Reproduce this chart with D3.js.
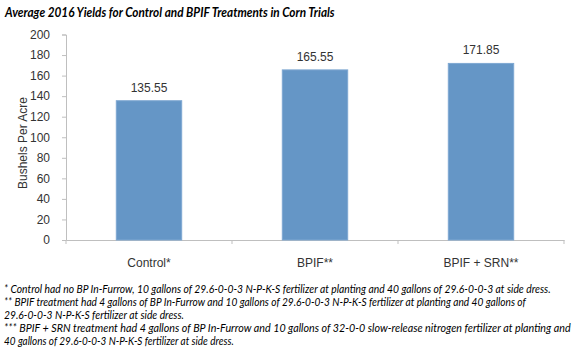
<!DOCTYPE html>
<html><head><meta charset="utf-8">
<script src="https://cdn.jsdelivr.net/npm/d3@7"></script>
<style>body{margin:0;background:#fff}svg{display:block}</style>
</head><body>
<svg id="c" width="580" height="353"></svg>
<script>
const title = "Average 2016 Yields for Control and BPIF Treatments in Corn Trials";
const categories = ["Control*", "BPIF**", "BPIF + SRN**"];
const values = [135.55, 165.55, 171.85];
const valueLabels = ["135.55", "165.55", "171.85"];
const yTicks = [0, 20, 40, 60, 80, 100, 120, 140, 160, 180, 200];
const yTitle = "Bushels Per Acre";
const footnotes = [
  "* Control had no BP In-Furrow, 10 gallons of 29.6-0-0-3 N-P-K-S fertilizer at planting and 40 gallons of 29.6-0-0-3 at side dress.",
  "** BPIF treatment had 4 gallons of BP In-Furrow and 10 gallons of 29.6-0-0-3 N-P-K-S fertilizer at planting and 40 gallons of",
  "29.6-0-0-3 N-P-K-S fertilizer at side dress.",
  "*** BPIF + SRN treatment had 4 gallons of BP In-Furrow and 10 gallons of 32-0-0 slow-release nitrogen fertilizer at planting and",
  "40 gallons of 29.6-0-0-3 N-P-K-S fertilizer at side dress."
];
const footWidths = [547, 522, 180, 567, 230];

const svg = d3.select("#c");
const x = d3.scaleBand().domain(categories).range([66, 564]).paddingInner(0.6).paddingOuter(0.3);
const y = d3.scaleLinear().domain([0, 200]).range([240, 34.5]);
const axisColor = "#bfbfbf";
const textColor = "#333";
const font = "'Liberation Sans', Arial, sans-serif";

function fitText(sel, target, tx, ty) {
  sel.each(function(d, i) {
    const t = typeof target === "function" ? target(d, i) : target;
    const w = this.getComputedTextLength();
    const yy = typeof ty === "function" ? ty(d, i) : ty;
    d3.select(this).attr("x", 0).attr("y", 0)
      .attr("transform", `translate(${tx},${yy}) scale(${t / w},1)`);
  });
}

const tt = svg.append("text")
  .attr("font-family", "Lato, 'Open Sans', sans-serif").attr("font-weight", "bold").attr("font-style", "italic")
  .attr("font-size", 13).attr("fill", "#000").text(title);
fitText(tt, 330, 5, 17);

// y axis
const yAxis = svg.append("g").attr("transform", "translate(66,0)")
  .call(d3.axisLeft(y).tickValues(yTicks).tickSize(4).tickPadding(12));
yAxis.select(".domain").attr("stroke", axisColor);
yAxis.selectAll(".tick line").attr("stroke", axisColor);
yAxis.selectAll(".tick text").attr("font-family", font).attr("font-size", 12).attr("fill", textColor);

// x axis
const xAxis = svg.append("g").attr("transform", "translate(0,240)")
  .call(d3.axisBottom(x).tickSize(0).tickPadding(18));
xAxis.select(".domain").attr("stroke", axisColor);
xAxis.selectAll(".tick text").attr("font-family", font).attr("font-size", 12).attr("fill", textColor);
const bnd = [66].concat(categories.map(c => x(c) + x.bandwidth() / 2 + x.step() / 2));
svg.append("g").selectAll("line").data(bnd).join("line")
  .attr("x1", d => d).attr("x2", d => d).attr("y1", 240).attr("y2", 244).attr("stroke", axisColor);

// bars
svg.append("g").selectAll("rect").data(values).join("rect")
  .attr("x", (d, i) => x(categories[i]) + 0.5)
  .attr("y", d => y(d))
  .attr("width", x.bandwidth() - 1)
  .attr("height", d => y(0) - y(d))
  .attr("fill", "#6596c6").attr("stroke", "#7fa8d2").attr("stroke-width", 1);

svg.append("g").selectAll("text").data(values).join("text")
  .attr("x", (d, i) => x(categories[i]) + x.bandwidth() / 2)
  .attr("y", d => y(d) - 9)
  .attr("text-anchor", "middle").attr("font-family", font).attr("font-size", 12).attr("fill", textColor)
  .text((d, i) => valueLabels[i]);

svg.append("text").attr("transform", "translate(27,143) rotate(-90)")
  .attr("text-anchor", "middle").attr("font-family", font).attr("font-size", 12).attr("fill", textColor)
  .text(yTitle);

const fn = svg.append("g").selectAll("text").data(footnotes).join("text")
  .attr("font-family", "Lato, 'Open Sans', sans-serif").attr("font-style", "italic")
  .attr("font-size", 11.3).attr("fill", "#000")
  .text(d => d);
fitText(fn, (d, i) => footWidths[i], 4, (d, i) => 293 + i * 13);
</script>
</body></html>
